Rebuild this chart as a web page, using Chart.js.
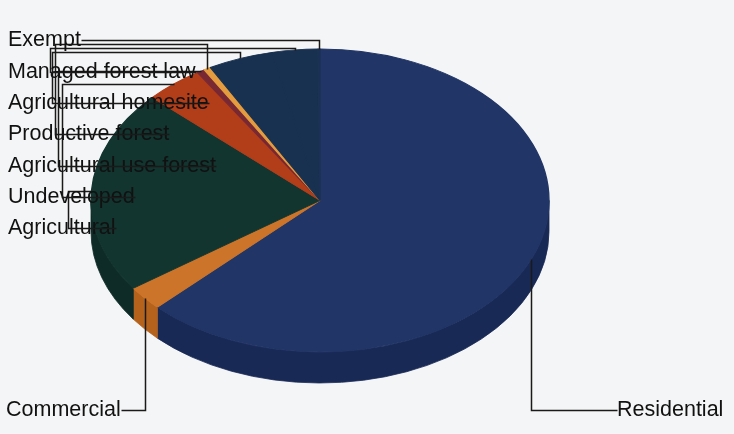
<!DOCTYPE html>
<html>
<head>
<meta charset="utf-8">
<script src="https://cdn.jsdelivr.net/npm/chart.js@4.4.1/dist/chart.umd.min.js"></script>
<style>
  html, body { margin: 0; padding: 0; background: #f4f5f6; }
  #wrap { width: 734px; height: 434px; }
</style>
</head>
<body>
<div id="wrap"><canvas id="pie"></canvas></div>
<script>
// Slices, clockwise from 12 o'clock
const categories = [
  "Residential", "Commercial", "Agricultural", "Undeveloped",
  "Agricultural use forest", "Productive forest", "Agricultural homesite",
  "Managed forest law", "Exempt"
];
const shares = [62.6, 2.6, 21.75, 4.1, 0.55, 0.5, 4.6, 3.2, 0.15];
const topColors = ["#213566", "#cc7429", "#12352f", "#b23d19", "#782832", "#e49c3f", "#193150", "#193150", "#1c3254"];
const sideColors = ["#192955", "#b5621d", "#0e2b27", "#922f14", "#5e1f27", "#c48232", "#142840", "#142840", "#192955"];

// 3D look of the pie
const cx = 320, cy = 200.5, rx = 229, ry = 151.5, depth = 31;
const FONT = "21.5px 'Liberation Sans', Arial, sans-serif";

// label placement: side, label y, elbow bar x, routing y
const labelLayout = {
  "Exempt": { side: "left", y: 40, bar: null, route: null },
  "Managed forest law": { side: "left", y: 72, bar: 50, route: 48 },
  "Agricultural homesite": { side: "left", y: 103, bar: 52, route: 52 },
  "Productive forest": { side: "left", y: 134, bar: 55, route: 44 },
  "Agricultural use forest": { side: "left", y: 166, bar: 58, route: null },
  "Undeveloped": { side: "left", y: 197, bar: 62, route: null },
  "Agricultural": { side: "left", y: 228, bar: 68, route: null },
  "Commercial": { side: "bottomLeft", y: 410, x: 6 },
  "Residential": { side: "bottomRight", y: 410, x: 617 }
};

function rimPoint(a) {
  return [cx + rx * Math.cos(a), cy + ry * Math.sin(a)];
}

const pie3d = {
  id: "pie3d",
  beforeDatasetsDraw(chart) {
    const ctx = chart.ctx;
    const arcs = chart.getDatasetMeta(0).data;
    // side walls, only the front half (0..PI) shows
    arcs.forEach((el, i) => {
      const s = el.startAngle, e = el.endAngle;
      [[s, e], [s - 2 * Math.PI, e - 2 * Math.PI]].forEach(([a0, b0]) => {
        const a = Math.max(a0, 0), b = Math.min(b0, Math.PI);
        if (b <= a) return;
        ctx.beginPath();
        ctx.ellipse(cx, cy, rx, ry, 0, a, b, false);
        ctx.lineTo(cx + rx * Math.cos(b), cy + depth + ry * Math.sin(b));
        ctx.ellipse(cx, cy + depth, rx, ry, 0, b, a, true);
        ctx.closePath();
        ctx.fillStyle = sideColors[i];
        ctx.strokeStyle = sideColors[i];
        ctx.lineWidth = 0.8;
        ctx.fill();
        ctx.stroke();
      });
    });
    // squash the flat pie into the ellipse of the top face
    const el0 = arcs[0];
    ctx.save();
    ctx.translate(cx, cy);
    ctx.scale(rx / el0.outerRadius, ry / el0.outerRadius);
    ctx.translate(-el0.x, -el0.y);
  },
  afterDatasetsDraw(chart) {
    const ctx = chart.ctx;
    ctx.restore();
    const arcs = chart.getDatasetMeta(0).data;
    ctx.save();
    ctx.font = FONT;
    ctx.fillStyle = "#111111";
    ctx.strokeStyle = "#1a1a1a";
    ctx.lineWidth = 1.5;
    ctx.textBaseline = "middle";
    ctx.textAlign = "left";
    categories.forEach((name, i) => {
      const el = arcs[i];
      const [ax, ay] = rimPoint((el.startAngle + el.endAngle) / 2);
      const lay = labelLayout[name];
      const w = ctx.measureText(name).width;
      let pts;
      if (lay.side === "left") {
        const xr = 8 + w;
        ctx.fillText(name, 8, lay.y);
        if (lay.bar === null) {
          pts = [[xr, lay.y], [ax, lay.y], [ax, ay]];
        } else {
          const ry2 = lay.route === null ? ay : lay.route;
          pts = [[xr, lay.y], [lay.bar, lay.y], [lay.bar, ry2], [ax, ry2], [ax, ay]];
        }
      } else if (lay.side === "bottomLeft") {
        ctx.fillText(name, lay.x, lay.y);
        pts = [[lay.x + w, lay.y], [ax, lay.y], [ax, ay]];
      } else {
        ctx.fillText(name, lay.x, lay.y);
        pts = [[lay.x, lay.y], [ax, lay.y], [ax, ay]];
      }
      ctx.beginPath();
      pts.forEach(([x, y], k) => {
        const px = Math.round(x) + 0.5, py = Math.round(y) + 0.5;
        k === 0 ? ctx.moveTo(px, py) : ctx.lineTo(px, py);
      });
      ctx.stroke();
    });
    ctx.restore();
  }
};

new Chart(document.getElementById("pie"), {
  type: "pie",
  data: {
    labels: categories,
    datasets: [{
      data: shares,
      backgroundColor: topColors,
      borderColor: topColors,
      borderWidth: 1.2,
      clip: false,
      hoverOffset: 0
    }]
  },
  options: {
    responsive: true,
    maintainAspectRatio: false,
    animation: false,
    events: [],
    layout: { padding: 10 },
    plugins: {
      legend: { display: false },
      tooltip: { enabled: false }
    }
  },
  plugins: [pie3d]
});
</script>
</body>
</html>
